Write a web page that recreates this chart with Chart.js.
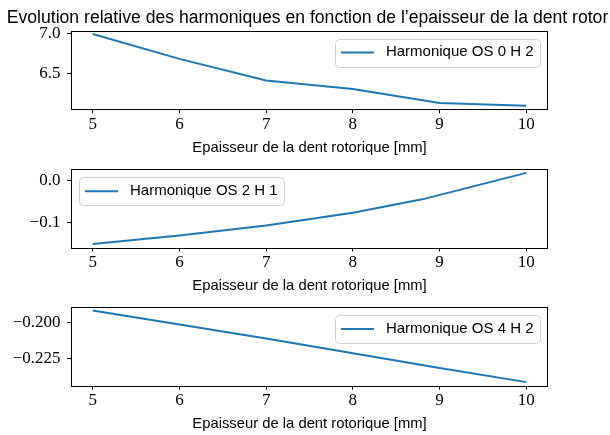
<!DOCTYPE html>
<html><head><meta charset="utf-8">
<script src="https://cdn.jsdelivr.net/npm/chart.js@4"></script>
<style>
html,body{margin:0;padding:0;background:#fff;overflow:hidden}
#wrap{position:relative;width:610px;height:435px}
canvas{position:absolute;left:0}
</style></head><body>
<div id="wrap">
<canvas id="c1" width="610" height="160" style="top:0px"></canvas>
<canvas id="c2" width="610" height="138" style="top:158px"></canvas>
<canvas id="c3" width="610" height="139" style="top:295px"></canvas>
</div>
<script>
// ---- data ----
const titleText = 'Evolution relative des harmoniques en fonction de l’epaisseur de la dent rotor';
const xLabel = 'Epaisseur de la dent rotorique [mm]';
const xTicks = [5, 6, 7, 8, 9, 10];
const xTickLabels = ['5', '6', '7', '8', '9', '10'];

const label1 = 'Harmonique OS 0 H 2';
const x1 = [5, 6, 7, 8, 9, 10];
const y1 = [6.99, 6.68, 6.41, 6.305, 6.13, 6.095];
const yTicks1 = [6.5, 7.0];
const yTickLabels1 = ['6.5', '7.0'];

const label2 = 'Harmonique OS 2 H 1';
const x2 = [5, 6, 7, 8, 8.8, 10];
const y2 = [-0.150, -0.130, -0.106, -0.076, -0.044, 0.019];
const yTicks2 = [-0.1, 0.0];
const yTickLabels2 = ['−0.1', '0.0'];

const label3 = 'Harmonique OS 4 H 2';
const x3 = [5, 6, 7, 8, 9, 10];
const y3 = [-0.1918, -0.2015, -0.2113, -0.2215, -0.2318, -0.2416];
const yTicks3 = [-0.225, -0.200];
const yTickLabels3 = ['−0.225', '−0.200'];

// ---- style ----
const SANS = '"Liberation Sans", Arial, sans-serif';
const SERIF = '"Liberation Serif", "Times New Roman", serif';
const LINE = '#1f77b4';

const framePlugin = {
  id: 'frame',
  afterDatasetsDraw(chart) {
    const {ctx, chartArea: a} = chart;
    ctx.save();
    ctx.strokeStyle = '#000';
    ctx.lineWidth = 1;
    ctx.strokeRect(Math.round(a.left) + 0.5, Math.round(a.top) + 0.5,
                   Math.round(a.right) - Math.round(a.left) - 1, Math.round(a.bottom) - Math.round(a.top));
    ctx.restore();
  }
};

const titlePlugin = {
  id: 'mplTitle',
  afterDraw(chart, args, opts) {
    if (!opts || !opts.text) return;
    const {ctx, chartArea: a} = chart;
    ctx.save();
    ctx.font = opts.font;
    ctx.fillStyle = '#000';
    ctx.textAlign = 'center';
    ctx.textBaseline = 'alphabetic';
    ctx.fillText(opts.text, (a.left + a.right) / 2 + (opts.dx || 0), opts.y);
    ctx.restore();
  }
};

const legendPlugin = {
  id: 'mplLegend',
  afterDraw(chart, args, opts) {
    const {ctx, chartArea: a} = chart;
    const ds = chart.data.datasets[0];
    ctx.save();
    ctx.font = opts.font;
    const tw = ctx.measureText(ds.label).width;
    const w = opts.padL + opts.handle + opts.gap + tw + opts.padR;
    const h = opts.h;
    const x = opts.loc === 'right' ? a.right - opts.inset - w : a.left + opts.inset;
    const y = a.top + opts.inset;
    ctx.beginPath();
    ctx.roundRect(Math.round(x) + 0.5, Math.round(y) + 0.5, Math.round(w), Math.round(h), 4);
    ctx.fillStyle = 'rgba(255,255,255,0.8)';
    ctx.fill();
    ctx.strokeStyle = '#d0d0d0';
    ctx.lineWidth = 1;
    ctx.stroke();
    ctx.beginPath();
    ctx.strokeStyle = ds.borderColor;
    ctx.lineWidth = ds.borderWidth;
    const cy = y + h / 2;
    ctx.moveTo(x + opts.padL, cy);
    ctx.lineTo(x + opts.padL + opts.handle, cy);
    ctx.stroke();
    ctx.fillStyle = '#000';
    ctx.textBaseline = 'middle';
    ctx.textAlign = 'left';
    ctx.fillText(ds.label, x + opts.padL + opts.handle + opts.gap, cy - 0.5);
    ctx.restore();
  }
};

function range(vals) {
  const mn = Math.min(...vals), mx = Math.max(...vals);
  const m = (mx - mn) * 0.05;
  return [mn - m, mx + m];
}

function make(id, xs, ys, label, yTicks, yLabels, loc, pad, title) {
  const [xmin, xmax] = range(xs);
  const [ymin, ymax] = range(ys);
  return new Chart(document.getElementById(id), {
    type: 'line',
    data: {
      datasets: [{
        label: label,
        data: xs.map((x, i) => ({x: x, y: ys[i]})),
        borderColor: LINE,
        backgroundColor: LINE,
        borderWidth: 2,
        pointRadius: 0,
        tension: 0,
        fill: false
      }]
    },
    options: {
      responsive: false,
      animation: false,
      devicePixelRatio: 1,
      layout: {padding: pad},
      plugins: {
        legend: {display: false},
        tooltip: {enabled: false},
        title: {display: false},
        mplTitle: title || {},
        mplLegend: {loc: loc, inset: 8, padL: 6, handle: 33, gap: 12, padR: 6.5, h: 28,
                    font: '15px ' + SANS}
      },
      scales: {
        x: {
          type: 'linear', min: xmin, max: xmax,
          afterBuildTicks: s => { s.ticks = xTicks.map(v => ({value: v})); },
          ticks: {
            callback: v => xTickLabels[xTicks.indexOf(v)],
            font: {family: SERIF, size: 17}, color: '#000', padding: 1,
            maxRotation: 0, autoSkip: false
          },
          grid: {drawOnChartArea: false, drawTicks: true, tickLength: 4, color: '#000', lineWidth: 1},
          border: {display: false},
          title: {display: true, text: xLabel, color: '#000',
                  font: {family: SANS, size: 14.8, lineHeight: 1.2}, padding: {top: 0, bottom: 1}},
          afterFit: s => { s.height = 48; s.paddingLeft = 0; s.paddingRight = 0; }
        },
        y: {
          type: 'linear', min: ymin, max: ymax,
          afterBuildTicks: s => { s.ticks = yTicks.map(v => ({value: v})); },
          ticks: {
            callback: v => yLabels[yTicks.indexOf(v)],
            font: {family: SERIF, size: 17}, color: '#000', padding: 6.5,
            autoSkip: false
          },
          grid: {drawOnChartArea: false, drawTicks: true, tickLength: 4, color: '#000', lineWidth: 1},
          border: {display: false},
          afterFit: s => { s.width = 71; s.paddingTop = 0; s.paddingBottom = 0; }
        }
      }
    },
    plugins: [framePlugin, titlePlugin, legendPlugin]
  });
}

make('c1', x1, y1, label1, yTicks1, yTickLabels1, 'right',
     {top: 30.5, bottom: 2.7, left: 0, right: 62},
     {text: titleText, font: '17.6px ' + SANS, y: 22.7, dx: -2});
make('c2', x2, y2, label2, yTicks2, yTickLabels2, 'left',
     {top: 11.3, bottom: 0.5, left: 0, right: 62});
make('c3', x3, y3, label3, yTicks3, yTickLabels3, 'right',
     {top: 12, bottom: 0.3, left: 0, right: 62});
</script>
</body></html>
